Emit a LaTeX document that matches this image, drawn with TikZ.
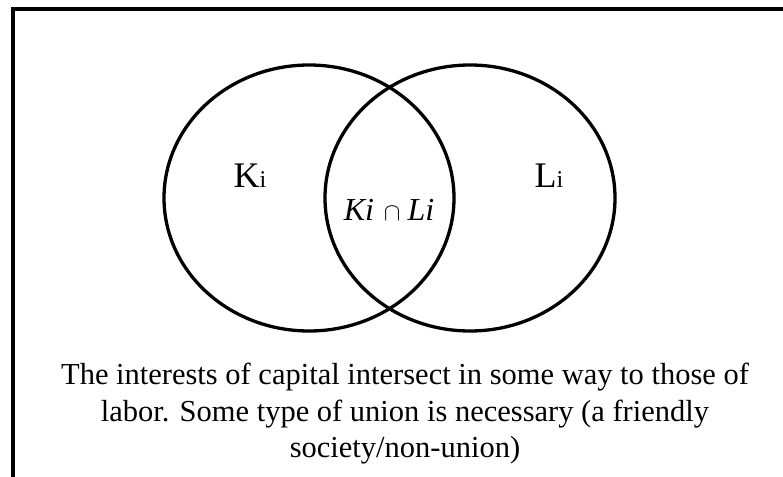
\documentclass[tikz,border=0pt]{standalone}
\usepackage{fontspec}
\setmainfont{Liberation Serif}
\usetikzlibrary{positioning}

\begin{document}
\begin{tikzpicture}[x=1pt, y=-1pt,
    venn/.style={line width=3.3pt},
    lbl/.style={inner sep=0pt, anchor=base}]
    \useasboundingbox (0,0) rectangle (783,476);
    % Khung
    \draw[line width=4pt] (13,490) -- (13,9) -- (800,9);
    
    % Hai tập hợp
    \draw[venn] (309,198) ellipse [x radius=145pt, y radius=133pt];
    \draw[venn] (470,198) ellipse [x radius=145pt, y radius=133pt];
    
    % Nhãn
    \node[lbl] (ki) at (250,187) {\fontsize{36}{40}\selectfont K\fontsize{24}{28}\selectfont i};
    \node[lbl] (li) at (549,187) {\fontsize{36}{40}\selectfont L\fontsize{24}{28}\selectfont i};
    \node[lbl] (kl) at (389,220) {\fontsize{32}{36}\selectfont\itshape Ki\hspace{10pt}$\cap$\hspace{7pt}Li};
    
    % Chú thích
    \node[inner sep=0pt, anchor=north, align=center, font=\fontsize{30.5}{36.5}\selectfont] (cap) at (405,363)
        {The interests of capital intersect in some way to those of\\
         labor. Some type of union is necessary (a friendly\\
         society/non-union)};
\end{tikzpicture}
\end{document}
